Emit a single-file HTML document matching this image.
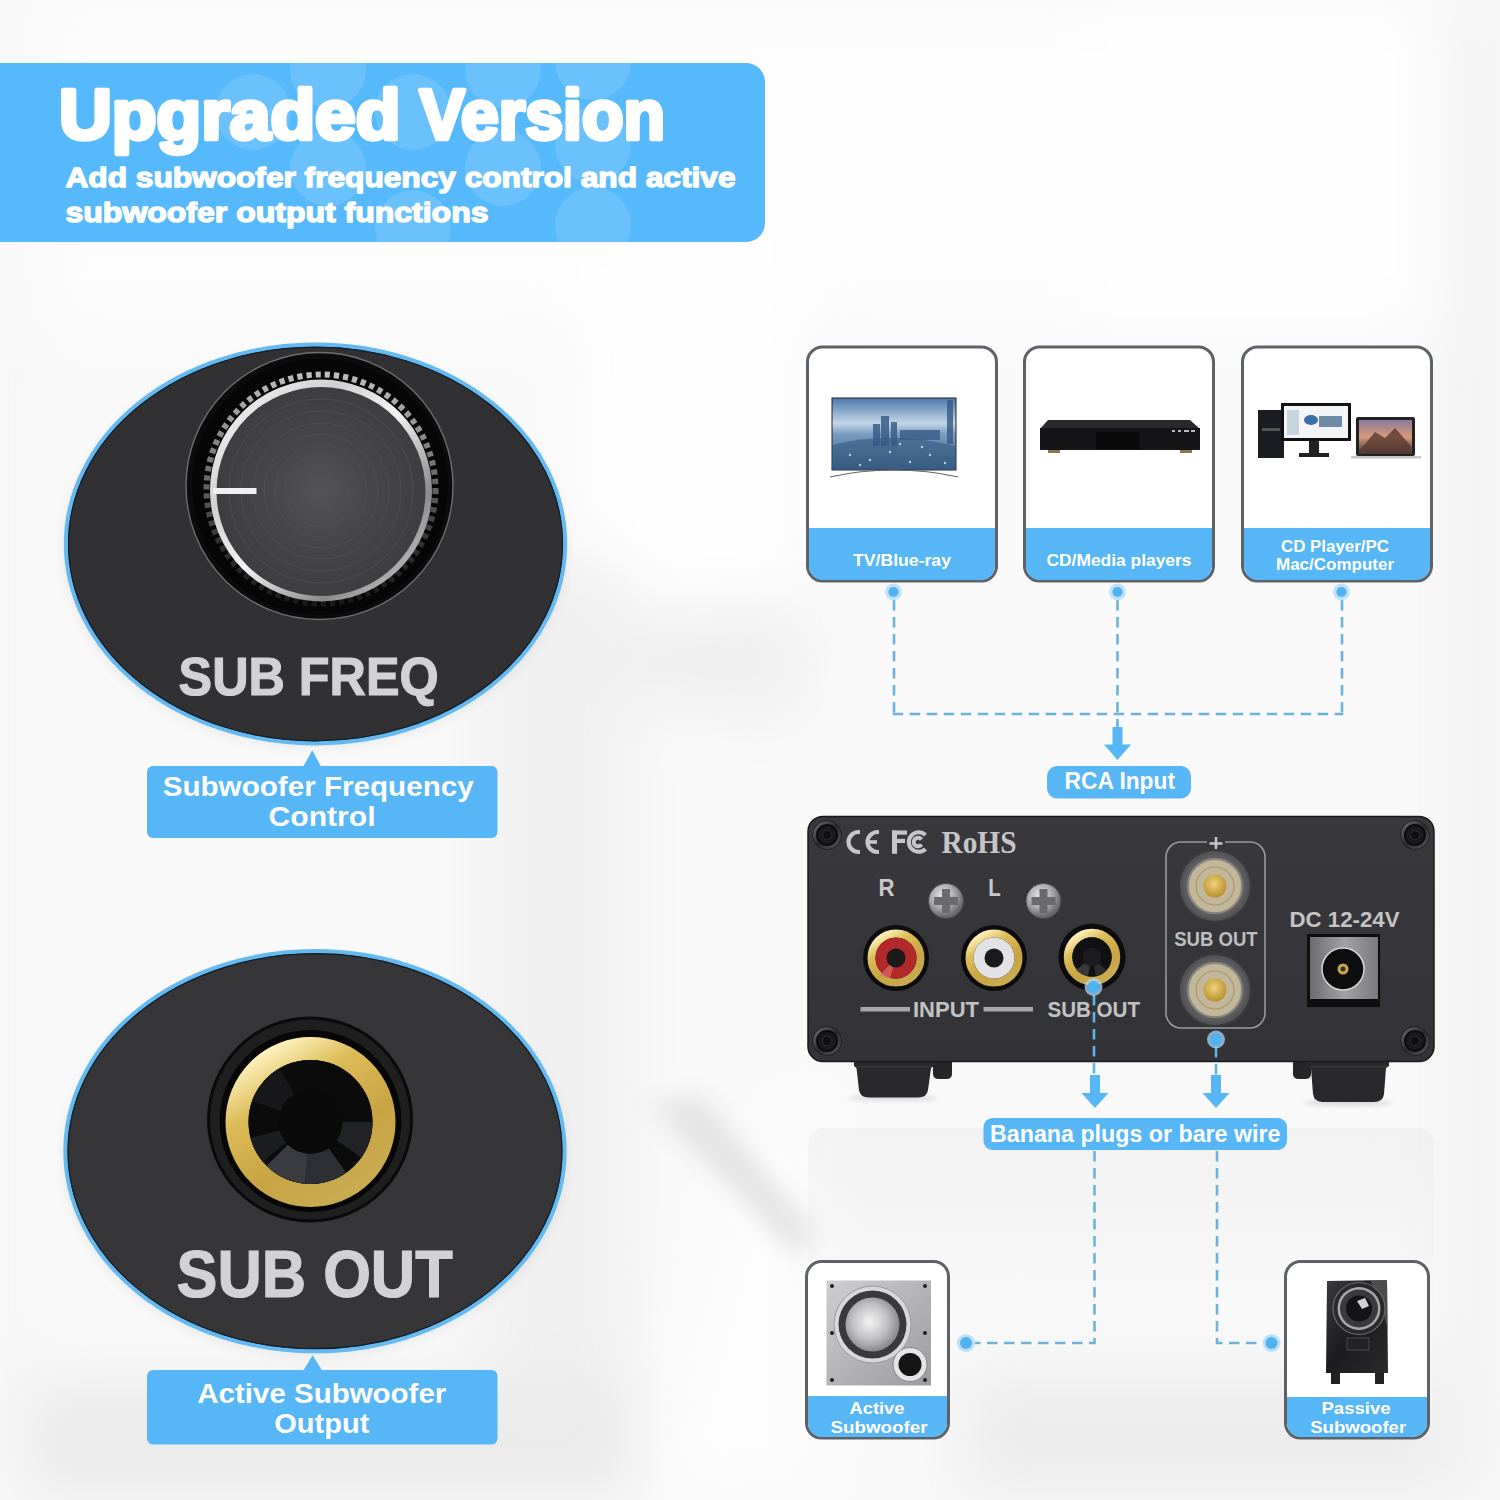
<!DOCTYPE html>
<html><head><meta charset="utf-8">
<style>
html,body{margin:0;padding:0;width:1500px;height:1500px;overflow:hidden;background:#f7f7f7;}
svg{display:block;font-family:"Liberation Sans",sans-serif;}
</style></head>
<body>
<svg width="1500" height="1500" viewBox="0 0 1500 1500">
<defs>
  <filter id="blur2" x="-50%" y="-50%" width="200%" height="200%"><feGaussianBlur stdDeviation="2"/></filter>
  <filter id="blur12" x="-50%" y="-50%" width="200%" height="200%"><feGaussianBlur stdDeviation="12"/></filter>
  <filter id="bgblur" x="-10%" y="-10%" width="120%" height="120%"><feGaussianBlur stdDeviation="30"/></filter>
  <linearGradient id="bg" x1="0" y1="0" x2="1" y2="0">
    <stop offset="0" stop-color="#fbfbfb"/>
    <stop offset="0.4" stop-color="#fcfcfc"/>
    <stop offset="0.55" stop-color="#f3f3f3"/>
    <stop offset="0.7" stop-color="#f8f8f8"/>
    <stop offset="0.85" stop-color="#f1f1f1"/>
    <stop offset="1" stop-color="#f6f6f6"/>
  </linearGradient>
  <clipPath id="bannerClip"><rect x="-30" y="63" width="795" height="179" rx="19"/></clipPath>

  <filter id="blur8" x="-20%" y="-20%" width="140%" height="140%"><feGaussianBlur stdDeviation="6"/></filter>
  <linearGradient id="silver" x1="0" y1="0" x2="1" y2="1">
    <stop offset="0" stop-color="#ffffff"/><stop offset="0.3" stop-color="#d0d0d0"/>
    <stop offset="0.5" stop-color="#f4f4f4"/><stop offset="0.75" stop-color="#8a8a8a"/><stop offset="1" stop-color="#e4e4e4"/>
  </linearGradient>
  <radialGradient id="knobface" cx="0.5" cy="0.5" r="0.5">
    <stop offset="0" stop-color="#545457"/><stop offset="0.5" stop-color="#464649"/><stop offset="1" stop-color="#3e3e41"/>
  </radialGradient>
  <linearGradient id="gold" x1="0.2" y1="0" x2="0.8" y2="1">
    <stop offset="0" stop-color="#fff3c0"/><stop offset="0.28" stop-color="#dcbc58"/>
    <stop offset="0.65" stop-color="#c8a443"/><stop offset="1" stop-color="#c9ac52"/>
  </linearGradient>

  <linearGradient id="tvscreen" x1="0" y1="0" x2="0" y2="1">
    <stop offset="0" stop-color="#4a78aa"/><stop offset="0.35" stop-color="#c4d6e8"/><stop offset="0.5" stop-color="#7a9cc0"/><stop offset="1" stop-color="#3a5f8a"/>
  </linearGradient>
  <linearGradient id="macscreen" x1="0" y1="0" x2="0" y2="1">
    <stop offset="0" stop-color="#8a7ba0"/><stop offset="0.5" stop-color="#d89a78"/><stop offset="1" stop-color="#3a3440"/>
  </linearGradient>

  <linearGradient id="ampgrad" x1="0" y1="0" x2="0" y2="1">
    <stop offset="0" stop-color="#39393d"/><stop offset="1" stop-color="#333337"/>
  </linearGradient>
  <radialGradient id="screwg" cx="0.4" cy="0.35" r="0.6">
    <stop offset="0" stop-color="#e8e8ea"/><stop offset="0.6" stop-color="#a8a8aa"/><stop offset="1" stop-color="#6a6a6c"/>
  </radialGradient>
  <radialGradient id="postg" cx="0.5" cy="0.5" r="0.5">
    <stop offset="0.6" stop-color="#7e7c76"/><stop offset="0.8" stop-color="#626264"/><stop offset="1" stop-color="#505052"/>
  </radialGradient>
  <radialGradient id="goldpin" cx="0.45" cy="0.4" r="0.6">
    <stop offset="0" stop-color="#f0d27a"/><stop offset="1" stop-color="#b8902e"/>
  </radialGradient>
  <linearGradient id="dcg" x1="0" y1="0" x2="1" y2="0">
    <stop offset="0" stop-color="#6c6c6e"/><stop offset="0.5" stop-color="#a2a2a4"/><stop offset="1" stop-color="#7a7a7c"/>
  </linearGradient>
  <linearGradient id="silverbox" x1="0" y1="0" x2="1" y2="1">
    <stop offset="0" stop-color="#cfcfd1"/><stop offset="0.5" stop-color="#b4b4b6"/><stop offset="1" stop-color="#9c9c9e"/>
  </linearGradient>
  <radialGradient id="cone" cx="0.45" cy="0.45" r="0.55">
    <stop offset="0" stop-color="#f4f4f4"/><stop offset="0.6" stop-color="#c0c0c2"/><stop offset="1" stop-color="#8a8a8c"/>
  </radialGradient>
  <linearGradient id="darkbox" x1="0" y1="0" x2="1" y2="1">
    <stop offset="0" stop-color="#3a3a3c"/><stop offset="0.5" stop-color="#1c1c1e"/><stop offset="1" stop-color="#2a2a2c"/>
  </linearGradient>
  <linearGradient id="reflg" x1="0" y1="0" x2="0" y2="1">
    <stop offset="0" stop-color="#2c2d30" stop-opacity="0.035"/><stop offset="1" stop-color="#2c2d30" stop-opacity="0.0"/>
  </linearGradient>
  <linearGradient id="tickg" x1="0" y1="0" x2="0" y2="1">
    <stop offset="0" stop-color="#bdbdbf"/><stop offset="0.45" stop-color="#6a6a6c"/><stop offset="0.75" stop-color="#303032"/><stop offset="1" stop-color="#1a1a1c"/>
  </linearGradient>
  <linearGradient id="screwring" x1="0" y1="0" x2="1" y2="1">
    <stop offset="0" stop-color="#6a6a6c"/><stop offset="0.5" stop-color="#2a2a2c"/><stop offset="1" stop-color="#555557"/>
  </linearGradient>
</defs>
<rect width="1500" height="1500" fill="#f9f9f9"/>
<g filter="url(#bgblur)">
  <rect x="0" y="0" width="1500" height="330" fill="#fdfdfd"/>
  <rect x="580" y="240" width="220" height="360" fill="#fefefe"/>
  <rect x="1080" y="0" width="380" height="330" fill="#fefefe"/>
  <rect x="480" y="560" width="150" height="940" fill="#f0f0f0"/>
  <rect x="0" y="1380" width="640" height="120" fill="#ebebeb"/>
  <rect x="960" y="1370" width="540" height="130" fill="#ededed"/>
  <path d="M640 1500 L820 1500 L820 1080 L720 1180 Z" fill="#fdfdfd"/>
  <path d="M620 620 L800 600 L800 720 L640 700 Z" fill="#efefef"/>
  <rect x="1440" y="0" width="60" height="1500" fill="#f3f3f3"/>
  <rect x="0" y="0" width="30" height="1500" fill="#f5f5f5"/>
</g>
<g filter="url(#blur12)">
  <path d="M650 1105 L700 1095 L815 1230 L800 1260 Z" fill="#e4e4e4"/>
</g>

<!-- BANNER -->
<g id="banner">
  <rect x="-30" y="63" width="795" height="179" rx="19" fill="#56b9fc"/>
  <g clip-path="url(#bannerClip)" fill="#ffffff" opacity="0.12">
    <circle cx="253" cy="112" r="38"/>
    <circle cx="328" cy="70" r="38"/>
    <circle cx="328" cy="168" r="38"/>
    <circle cx="413" cy="112" r="38"/>
    <circle cx="413" cy="228" r="38"/>
    <circle cx="503" cy="70" r="38"/>
    <circle cx="503" cy="168" r="38"/>
    <circle cx="593" cy="62" r="38"/>
    <circle cx="593" cy="145" r="38"/>
    <circle cx="593" cy="225" r="38"/>
  </g>
  <g fill="#fff" stroke="#fff" stroke-width="4.5" stroke-linejoin="round" font-size="70" font-weight="bold">
    <text x="59" y="138.5" textLength="341.5" lengthAdjust="spacingAndGlyphs">Upgraded</text>
    <text x="419.5" y="138.5" textLength="245.5" lengthAdjust="spacingAndGlyphs">Version</text>
  </g>
  <text x="65.5" y="187" font-size="28" font-weight="bold" fill="#fff" stroke="#fff" stroke-width="1.4" stroke-linejoin="round" textLength="670" lengthAdjust="spacingAndGlyphs">Add subwoofer frequency control and active</text>
  <text x="65.5" y="222" font-size="28" font-weight="bold" fill="#fff" stroke="#fff" stroke-width="1.4" stroke-linejoin="round" textLength="423" lengthAdjust="spacingAndGlyphs">subwoofer output functions</text>
</g>


<!-- LEFT ELLIPSE 1 -->
<g id="ell1">
  <ellipse cx="315" cy="548" rx="252" ry="200" fill="#000" opacity="0.06" filter="url(#blur8)"/>
  <ellipse cx="315.5" cy="544" rx="252" ry="201.5" fill="#c8ecfc"/><ellipse cx="315.5" cy="544" rx="249.5" ry="199.3" fill="#313133" stroke="#66b9ee" stroke-width="4.2"/><ellipse cx="315.5" cy="544" rx="247" ry="196.8" fill="none" stroke="#0f1e2c" stroke-width="1.2"/>
  <!-- knob -->
  <circle cx="319.5" cy="486" r="133.5" fill="#0c0c0d" stroke="#6e6e70" stroke-width="1.4"/>
  <circle cx="320" cy="487" r="128" fill="#060606"/>
  <circle cx="321" cy="489" r="114.5" fill="none" stroke="url(#tickg)" stroke-width="6" stroke-dasharray="5.2 4"/>
  <circle cx="321" cy="490.5" r="111" fill="url(#silver)" />
  <circle cx="321" cy="491.5" r="104.5" fill="url(#knobface)"/>
  <g fill="none" stroke="#525256" stroke-width="0.9" opacity="0.8">
    <circle cx="321" cy="491" r="6"/><circle cx="321" cy="491" r="12"/><circle cx="321" cy="491" r="19"/><circle cx="321" cy="491" r="27"/>
    <circle cx="321" cy="491" r="36"/><circle cx="321" cy="491" r="46"/><circle cx="321" cy="491" r="57"/>
    <circle cx="321" cy="491" r="68"/><circle cx="321" cy="491" r="80"/><circle cx="321" cy="491" r="92"/>
  </g>
  <rect x="213" y="488" width="43.5" height="6" fill="#f0f0f0"/>
  <text x="178.6" y="695" font-size="54" font-weight="bold" fill="#d2d2d4" stroke="#d2d2d4" stroke-width="1.2" textLength="260" lengthAdjust="spacingAndGlyphs">SUB FREQ</text>
</g>
<!-- bubble 1 -->
<g id="bub1">
  <rect x="147" y="766" width="350.5" height="72" rx="6" fill="#56b6f6"/>
  <path d="M303.3 766.5 L312.2 750.3 L321 766.5 Z" fill="#56b6f6"/>
  <text x="318.2" y="796" font-size="28" font-weight="bold" fill="#fff" text-anchor="middle" textLength="311" lengthAdjust="spacingAndGlyphs">Subwoofer Frequency</text>
  <text x="322" y="826" font-size="28" font-weight="bold" fill="#fff" text-anchor="middle" textLength="107" lengthAdjust="spacingAndGlyphs">Control</text>
</g>

<!-- LEFT ELLIPSE 2 -->
<g id="ell2">
  <ellipse cx="315" cy="1156" rx="252" ry="200" fill="#000" opacity="0.06" filter="url(#blur8)"/>
  <ellipse cx="315" cy="1151.2" rx="252" ry="202.3" fill="#c8ecfc"/><ellipse cx="315" cy="1151.2" rx="249.5" ry="200" fill="#363639" stroke="#66b9ee" stroke-width="4.2"/><ellipse cx="315" cy="1151.2" rx="247" ry="197.5" fill="none" stroke="#0f1e2c" stroke-width="1.2"/>
  <circle cx="310" cy="1119.5" r="103" fill="#0a0a0a"/>
  <circle cx="310" cy="1119.5" r="100" fill="#1f1f20"/>
  <circle cx="310.5" cy="1121" r="91" fill="#060606"/>
  <circle cx="310.5" cy="1122" r="73.5" fill="none" stroke="url(#gold)" stroke-width="23"/>
  <circle cx="310.5" cy="1122" r="62" fill="#0b0b0c"/>
  <path d="M307.9 1151.9 L305.1 1183.8 A62 62 0 0 1 266.7 1165.8 L289.3 1143.2 Z" fill="#3a3b40"/>
  <path d="M327.7 1146.6 L346.1 1172.8 A62 62 0 0 1 305.1 1183.8 L307.9 1151.9 Z" fill="#2e2f34"/>
  <path d="M340.5 1122.0 L372.5 1122.0 A62 62 0 0 1 361.3 1157.6 L335.1 1139.2 Z" fill="#222327"/>
  <path d="M287.5 1141.3 L263.0 1161.9 A62 62 0 0 1 250.6 1138.0 L281.5 1129.8 Z" fill="#1c1d20"/>
  <path d="M282.3 1111.7 L252.2 1100.8 A62 62 0 0 1 279.5 1068.3 L295.5 1096.0 Z" fill="#18181b"/>
  <circle cx="310.5" cy="1122" r="32" fill="#0a0a0b"/>
  <text x="176.6" y="1297" font-size="66" font-weight="bold" fill="#d2d2d4" stroke="#d2d2d4" stroke-width="1.2" textLength="276" lengthAdjust="spacingAndGlyphs">SUB OUT</text>
</g>
<g id="bub2">
  <rect x="147" y="1370" width="350.5" height="74.5" rx="6" fill="#56b6f6"/>
  <path d="M303.3 1370.5 L312.7 1355.2 L322 1370.5 Z" fill="#56b6f6"/>
  <text x="321.8" y="1402.5" font-size="28" font-weight="bold" fill="#fff" text-anchor="middle" textLength="249" lengthAdjust="spacingAndGlyphs">Active Subwoofer</text>
  <text x="321.8" y="1432.5" font-size="28" font-weight="bold" fill="#fff" text-anchor="middle" textLength="95" lengthAdjust="spacingAndGlyphs">Output</text>
</g>

<!-- SOURCE CARDS -->
<g id="cards">
  <g>
    <rect x="807.5" y="347" width="189" height="234" rx="15" fill="#fff" stroke="#5e6266" stroke-width="3"/>
    <path d="M809 528 H995 V566 A14 14 0 0 1 981 580 H823 A14 14 0 0 1 809 566 Z" fill="#56b6f6"/>
    <text x="902" y="566" font-size="17" font-weight="bold" fill="#fff" text-anchor="middle" textLength="98" lengthAdjust="spacingAndGlyphs">TV/Blue-ray</text>
  </g>
  <g>
    <rect x="1024.5" y="347" width="189" height="234" rx="15" fill="#fff" stroke="#5e6266" stroke-width="3"/>
    <path d="M1026 528 H1212 V566 A14 14 0 0 1 1198 580 H1040 A14 14 0 0 1 1026 566 Z" fill="#56b6f6"/>
    <text x="1119" y="566" font-size="17" font-weight="bold" fill="#fff" text-anchor="middle" textLength="145" lengthAdjust="spacingAndGlyphs">CD/Media players</text>
  </g>
  <g>
    <rect x="1242.5" y="347" width="189" height="234" rx="15" fill="#fff" stroke="#5e6266" stroke-width="3"/>
    <path d="M1244 528 H1430 V566 A14 14 0 0 1 1416 580 H1258 A14 14 0 0 1 1244 566 Z" fill="#56b6f6"/>
    <text x="1335" y="551.5" font-size="16" font-weight="bold" fill="#fff" text-anchor="middle" textLength="108" lengthAdjust="spacingAndGlyphs">CD Player/PC</text>
    <text x="1335" y="570" font-size="16" font-weight="bold" fill="#fff" text-anchor="middle" textLength="118" lengthAdjust="spacingAndGlyphs">Mac/Computer</text>
  </g>
  <!-- TV -->
  <g>
    <rect x="832" y="398" width="124" height="72" fill="url(#tvscreen)"/>
    <rect x="832" y="398" width="124" height="72" fill="none" stroke="#222" stroke-width="1"/>
    <g fill="#3c5f8a" opacity="0.85">
      <rect x="873" y="424" width="7" height="22"/><rect x="881" y="416" width="8" height="30"/><rect x="891" y="422" width="6" height="24"/>
      <rect x="947" y="400" width="6" height="44"/><rect x="900" y="430" width="40" height="10"/>
    </g>
    <path d="M832 445 Q890 430 956 446 L956 470 L832 470 Z" fill="#35587f" opacity="0.6"/>
    <g fill="#d8e6f4" opacity="0.8"><circle cx="850" cy="455" r="1.2"/><circle cx="870" cy="460" r="1.2"/><circle cx="890" cy="452" r="1.2"/><circle cx="910" cy="462" r="1.2"/><circle cx="930" cy="455" r="1.2"/><circle cx="945" cy="463" r="1.2"/><circle cx="860" cy="465" r="1.2"/><circle cx="900" cy="444" r="1.2"/><circle cx="922" cy="447" r="1.2"/></g>
    <path d="M830 477 Q860 470 894 470 Q928 470 958 477" fill="none" stroke="#666" stroke-width="1.2"/>
  </g>
  <!-- DVD -->
  <g>
    <path d="M1048 420 L1190 420 L1200 429 L1040 429 Z" fill="#2a2a2c"/>
    <rect x="1040" y="428" width="160" height="22" fill="#141416"/>
    <rect x="1096" y="432" width="43" height="17" fill="#0a0a0b"/>
    <g fill="#bbb"><rect x="1172" y="430" width="3" height="2"/><rect x="1178" y="430" width="3" height="2"/><rect x="1184" y="430" width="5" height="2"/><rect x="1191" y="430" width="4" height="2"/></g>
    <rect x="1048" y="450" width="12" height="3" fill="#8a7a50"/><rect x="1180" y="450" width="12" height="3" fill="#8a7a50"/>
  </g>
  <!-- PC -->
  <g>
    <rect x="1258" y="410" width="26" height="48" fill="#1c1d22"/>
    <rect x="1262" y="428" width="18" height="3" fill="#555"/>
    <rect x="1281" y="403" width="70" height="38" fill="#111"/>
    <rect x="1284" y="406" width="64" height="32" fill="#f2f4f6"/>
    <rect x="1287" y="410" width="12" height="25" fill="#c8d4de"/>
    <ellipse cx="1311" cy="420" rx="7" ry="5" fill="#3b6fa8"/>
    <rect x="1319" y="416" width="23" height="11" fill="#6e8ca8"/>
    <rect x="1309" y="441" width="10" height="12" fill="#222"/>
    <rect x="1299" y="453" width="30" height="4" fill="#222"/>
    <rect x="1356" y="417" width="59" height="39" rx="2" fill="#222"/>
    <rect x="1359" y="420" width="53" height="34" fill="url(#macscreen)"/>
    <path d="M1360 450 L1375 432 L1385 438 L1395 428 L1411 446 L1411 454 L1360 454 Z" fill="#5a3a30" opacity="0.8"/>
    <rect x="1351" y="456" width="70" height="2.5" fill="#c8c8cc"/>
  </g>
</g>

<!-- DASHED CONNECTORS TOP -->
<g id="dash-top" stroke="#6cb2dc" stroke-width="2.6" fill="none" stroke-dasharray="10.5 6.5">
  <path d="M894 600 V714"/>
  <path d="M1342 600 V714"/>
  <path d="M892.7 714 H1343.3"/>
  <path d="M1117.5 600 V727"/>
</g>
<g id="dots-top">
  <circle cx="893.5" cy="592" r="8.5" fill="#a9d8f7" opacity="0.7"/><circle cx="893.5" cy="592" r="5" fill="#4fb3f0"/>
  <circle cx="1117.5" cy="592" r="8.5" fill="#a9d8f7" opacity="0.7"/><circle cx="1117.5" cy="592" r="5" fill="#4fb3f0"/>
  <circle cx="1341.5" cy="592" r="8.5" fill="#a9d8f7" opacity="0.7"/><circle cx="1341.5" cy="592" r="5" fill="#4fb3f0"/>
</g>
<path d="M1112.5 727 H1122.5 V744.5 H1131 L1117.5 760 L1104 744.5 H1112.5 Z" fill="#56b6f6"/>
<rect x="1047" y="766" width="144" height="32.5" rx="10" fill="#56b6f6"/>
<text x="1119.8" y="789" font-size="23" font-weight="bold" fill="#fff" text-anchor="middle" textLength="110.5" lengthAdjust="spacingAndGlyphs">RCA Input</text>

<!-- AMP REFLECTION -->
<g>
  <rect x="808" y="1128" width="626" height="190" rx="15" fill="url(#reflg)"/>
</g>
<!-- AMPLIFIER -->
<g id="amp">
  <!-- feet -->
  <ellipse cx="893" cy="1098" rx="45" ry="3" fill="#000" opacity="0.12" filter="url(#blur2)"/>
  <ellipse cx="1348" cy="1103" rx="45" ry="3" fill="#000" opacity="0.12" filter="url(#blur2)"/>
  <path d="M933 1055 H952 V1074 Q952 1079 946 1079 H939 Q933 1079 933 1074 Z" fill="#262628"/>
  <path d="M1293 1055 H1311 V1074 Q1311 1079 1305 1079 H1299 Q1293 1079 1293 1074 Z" fill="#262628"/>
  <path d="M854 1058 H934 V1066 L931 1068 L928 1090 Q927 1097.5 918 1097.5 H869 Q860 1097.5 859 1090 L856.5 1068 L854 1066 Z" fill="#29292b"/>
  <rect x="856" y="1066" width="76" height="1.5" fill="#3a3a3c"/>
  <path d="M1308 1058 H1389 V1066 L1386 1068 L1384 1094 Q1383 1102 1374 1102 H1323 Q1314 1102 1313 1094 L1311 1068 L1308 1066 Z" fill="#29292b"/>
  <rect x="1310" y="1066" width="77" height="1.5" fill="#3a3a3c"/>
  <rect x="808" y="816.5" width="626" height="245" rx="15" fill="url(#ampgrad)" stroke="#1a1a1c" stroke-width="1.5"/>
  <!-- corner screws -->
  <g>
    <circle cx="827" cy="835" r="14.5" fill="#0d0d0e"/>
    <circle cx="827" cy="835" r="12.5" fill="none" stroke="url(#screwring)" stroke-width="3"/>
    <circle cx="827" cy="835" r="9" fill="#1a1a1c"/>
    <path d="M822 835 L824.5 830.7 L829.5 830.7 L832 835 L829.5 839.3 L824.5 839.3 Z" fill="#0e0e0f" stroke="#333" stroke-width="0.8"/>
    <circle cx="1415" cy="835" r="14.5" fill="#0d0d0e"/>
    <circle cx="1415" cy="835" r="12.5" fill="none" stroke="url(#screwring)" stroke-width="3"/>
    <circle cx="1415" cy="835" r="9" fill="#1a1a1c"/>
    <path d="M1410 835 L1412.5 830.7 L1417.5 830.7 L1420 835 L1417.5 839.3 L1412.5 839.3 Z" fill="#0e0e0f" stroke="#333" stroke-width="0.8"/>
    <circle cx="827" cy="1041" r="14.5" fill="#0d0d0e"/>
    <circle cx="827" cy="1041" r="12.5" fill="none" stroke="url(#screwring)" stroke-width="3"/>
    <circle cx="827" cy="1041" r="9" fill="#1a1a1c"/>
    <path d="M822 1041 L824.5 1036.7 L829.5 1036.7 L832 1041 L829.5 1045.3 L824.5 1045.3 Z" fill="#0e0e0f" stroke="#333" stroke-width="0.8"/>
    <circle cx="1415" cy="1041" r="14.5" fill="#0d0d0e"/>
    <circle cx="1415" cy="1041" r="12.5" fill="none" stroke="url(#screwring)" stroke-width="3"/>
    <circle cx="1415" cy="1041" r="9" fill="#1a1a1c"/>
    <path d="M1410 1041 L1412.5 1036.7 L1417.5 1036.7 L1420 1041 L1417.5 1045.3 L1412.5 1045.3 Z" fill="#0e0e0f" stroke="#333" stroke-width="0.8"/>
  </g>
  <!-- CE FC RoHS -->
  <g fill="none" stroke="#c6c6c8" stroke-width="4.2">
    <path d="M860 832 H858.5 A10 10 0 0 0 858.5 852 H860"/>
    <path d="M879 832 H877.5 A10 10 0 0 0 877.5 852 H879"/>
  </g>
  <rect x="868" y="840.2" width="9" height="3.6" fill="#c6c6c8"/>
  <g fill="#c6c6c8">
    <rect x="892" y="830.5" width="5" height="23.3"/><rect x="892" y="830.5" width="15" height="4.2"/><rect x="892" y="838.8" width="13" height="4.2"/>
  </g>
  <g fill="none" stroke="#c6c6c8" stroke-width="4">
    <path d="M925.5 835 A9.8 9.8 0 1 0 925.5 849"/>
    <path d="M921.5 839.5 A4.3 4.3 0 1 0 921.5 844.5"/>
  </g>
  <text x="941.5" y="852.6" font-family="Liberation Serif" font-size="31" font-weight="bold" fill="#c6c6c8" textLength="75" lengthAdjust="spacingAndGlyphs">RoHS</text>
  <!-- R L -->
  <text x="886.6" y="896" font-size="23" font-weight="bold" fill="#c8c8ca" text-anchor="middle" textLength="16" lengthAdjust="spacingAndGlyphs">R</text>
  <text x="994.5" y="896" font-size="23" font-weight="bold" fill="#c8c8ca" text-anchor="middle" textLength="12.5" lengthAdjust="spacingAndGlyphs">L</text>
  <!-- phillips screws -->
  <g>
    <circle cx="946" cy="901" r="17.5" fill="url(#screwg)" stroke="#4a4a4c" stroke-width="1"/>
    <path d="M942 889 H950 V897 H958 V905 H950 V913 H942 V905 H934 V897 H942 Z" fill="#6b6b6d"/>
    <circle cx="1043.5" cy="901" r="17.5" fill="url(#screwg)" stroke="#4a4a4c" stroke-width="1"/>
    <path d="M1039.5 889 H1047.5 V897 H1055.5 V905 H1047.5 V913 H1039.5 V905 H1031.5 V897 H1039.5 Z" fill="#6b6b6d"/>
  </g>
  <!-- RCA jacks -->
  <g>
    <circle cx="896" cy="958" r="33" fill="#0c0c0d"/>
    <circle cx="896" cy="958" r="24.5" fill="none" stroke="url(#gold)" stroke-width="8"/>
    <circle cx="896" cy="958" r="20.5" fill="#b3282a"/>
    <path d="M896 958 L880 975 A20.5 20.5 0 0 0 890 978 Z" fill="#d86c6a" opacity="0.7"/>
    <circle cx="896" cy="958" r="9.5" fill="#1a1a1a"/>
    <circle cx="994" cy="958" r="33" fill="#0c0c0d"/>
    <circle cx="994" cy="958" r="24.5" fill="none" stroke="url(#gold)" stroke-width="8"/>
    <circle cx="994" cy="958" r="20.5" fill="#e2e2e4"/>
    <circle cx="994" cy="958" r="9.5" fill="#1a1a1a"/>
    <circle cx="1092" cy="957" r="33.5" fill="#0c0c0d"/>
    <circle cx="1092" cy="957" r="24" fill="none" stroke="url(#gold)" stroke-width="8.5"/>
    <circle cx="1092" cy="957" r="19.5" fill="#111113"/>
    <path d="M1092 957 L1076 970 A19.5 19.5 0 0 0 1088 976 Z" fill="#444" opacity="0.8"/>
    <path d="M1092 957 L1096 976 A19.5 19.5 0 0 0 1106 970 Z" fill="#333" opacity="0.8"/>
    <circle cx="1092" cy="957" r="9.5" fill="#1c1c1e"/>
  </g>
  <!-- INPUT / SUB OUT labels -->
  <rect x="860.5" y="1007" width="49.5" height="4.5" fill="#a8a8aa"/>
  <rect x="983.5" y="1007" width="49.5" height="4.5" fill="#a8a8aa"/>
  <text x="913" y="1016.5" font-size="21.5" font-weight="bold" fill="#c2c2c4" textLength="66" lengthAdjust="spacingAndGlyphs">INPUT</text>
  <text x="1047.5" y="1016.5" font-size="21.5" font-weight="bold" fill="#c2c2c4" textLength="92.5" lengthAdjust="spacingAndGlyphs">SUB OUT</text>
  <!-- binding post enclosure -->
  <path d="M1207 842 H1181 A15 15 0 0 0 1166 857 V1013 A15 15 0 0 0 1181 1028 H1250 A15 15 0 0 0 1265 1013 V857 A15 15 0 0 0 1250 842 H1225" fill="none" stroke="#9a9a9c" stroke-width="1.6"/>
  <path d="M1216 837 V850 M1209.5 843.5 H1222.5" stroke="#c4c4c6" stroke-width="2.6"/>
  <g>
    <circle cx="1215" cy="886" r="37" fill="#3a3a3c"/>
    <circle cx="1215" cy="886" r="35" fill="url(#postg)"/>
    <circle cx="1215" cy="886" r="27" fill="#c2b79a" stroke="#8a8780" stroke-width="2"/>
    <circle cx="1215" cy="886" r="19" fill="none" stroke="#a99770" stroke-width="1.2"/>
    <circle cx="1215" cy="886" r="11.5" fill="url(#goldpin)"/>
    <circle cx="1215" cy="990" r="37" fill="#3a3a3c"/>
    <circle cx="1215" cy="990" r="35" fill="url(#postg)"/>
    <circle cx="1215" cy="990" r="27" fill="#c2b79a" stroke="#8a8780" stroke-width="2"/>
    <circle cx="1215" cy="990" r="19" fill="none" stroke="#a99770" stroke-width="1.2"/>
    <circle cx="1215" cy="990" r="11.5" fill="url(#goldpin)"/>
  </g>
  <text x="1174.2" y="946" font-size="20" font-weight="bold" fill="#bebec0" textLength="83.5" lengthAdjust="spacingAndGlyphs">SUB OUT</text>
  <!-- DC -->
  <text x="1289.5" y="926.5" font-size="22" font-weight="bold" fill="#c4c4c6" textLength="110" lengthAdjust="spacingAndGlyphs">DC 12-24V</text>
  <rect x="1307" y="934" width="73" height="73" fill="#0e0e0f"/>
  <rect x="1310" y="937" width="68" height="62" fill="url(#dcg)"/>
  <circle cx="1343" cy="969" r="21" fill="#0e0e0f" stroke="#d6d6d8" stroke-width="1.5"/>
  <circle cx="1343" cy="969" r="5.5" fill="#c9a84a"/>
  <circle cx="1343" cy="969" r="2.5" fill="#333"/>
</g>
<!-- amp connectors -->
<g stroke="#62b4e6" stroke-width="2.6" fill="none" stroke-dasharray="10.5 6.5">
  <path d="M1094 995 V1076"/>
  <path d="M1216 1047 V1076"/>
</g>
<circle cx="1093.5" cy="987" r="9" fill="#a9d8f7" opacity="0.75"/><circle cx="1093.5" cy="987" r="6" fill="#4fb3f0"/>
<circle cx="1216" cy="1039.5" r="9" fill="#a9d8f7" opacity="0.75"/><circle cx="1216" cy="1039.5" r="6" fill="#4fb3f0"/>
<path d="M1090 1075 H1100 V1093 H1108.5 L1095 1108 L1081.5 1093 H1090 Z" fill="#56b6f6"/>
<path d="M1211 1075 H1221 V1093 H1229.5 L1216 1108 L1202.5 1093 H1211 Z" fill="#56b6f6"/>
<rect x="983.5" y="1118" width="303.5" height="32" rx="9" fill="#56b6f6"/>
<text x="990" y="1141.5" font-size="23" font-weight="bold" fill="#fff" textLength="290.5" lengthAdjust="spacingAndGlyphs">Banana plugs or bare wire</text>

<!-- bottom connectors -->
<g stroke="#6cb2dc" stroke-width="2.6" fill="none" stroke-dasharray="10.5 6.5">
  <path d="M1094.5 1151 V1343 H975"/>
  <path d="M1217 1151 V1343 H1262"/>
</g>
<circle cx="966" cy="1343" r="9" fill="#a9d8f7" opacity="0.75"/><circle cx="966" cy="1343" r="6" fill="#4fb3f0"/>
<circle cx="1271.5" cy="1343" r="9" fill="#a9d8f7" opacity="0.75"/><circle cx="1271.5" cy="1343" r="6" fill="#4fb3f0"/>

<!-- SUB CARDS -->
<g>
  <rect x="806.5" y="1261.5" width="142" height="176.5" rx="15" fill="#fff" stroke="#5e6266" stroke-width="3"/>
  <path d="M808 1396 H947 V1423 A14 14 0 0 1 933 1437 H822 A14 14 0 0 1 808 1423 Z" fill="#56b6f6"/>
  <text x="877" y="1414" font-size="17" font-weight="bold" fill="#fff" text-anchor="middle" textLength="55" lengthAdjust="spacingAndGlyphs">Active</text>
  <text x="879" y="1432.5" font-size="17" font-weight="bold" fill="#fff" text-anchor="middle" textLength="97" lengthAdjust="spacingAndGlyphs">Subwoofer</text>
  <!-- active speaker -->
  <rect x="826.5" y="1280.5" width="104.5" height="105" fill="url(#silverbox)"/>
  <circle cx="872.5" cy="1324.5" r="38.5" fill="#d8d8da" stroke="#9a9a9c" stroke-width="1"/>
  <circle cx="872.5" cy="1324.5" r="34" fill="#3a3a3c"/>
  <circle cx="872.5" cy="1324.5" r="27" fill="url(#cone)"/>
  <circle cx="910" cy="1364.5" r="17" fill="#e4e4e6" stroke="#888" stroke-width="1"/>
  <circle cx="910" cy="1364.5" r="11.5" fill="#151515"/>
  <g fill="#222"><circle cx="832" cy="1286" r="2"/><circle cx="925" cy="1286" r="2"/><circle cx="832" cy="1380" r="2"/><circle cx="925" cy="1380" r="2"/><circle cx="832" cy="1333" r="2"/><circle cx="925" cy="1333" r="2"/></g>
</g>
<g>
  <rect x="1285.5" y="1261.5" width="143" height="176.5" rx="15" fill="#fff" stroke="#5e6266" stroke-width="3"/>
  <path d="M1287 1397 H1427 V1423 A14 14 0 0 1 1413 1437 H1301 A14 14 0 0 1 1287 1423 Z" fill="#56b6f6"/>
  <text x="1356" y="1413.5" font-size="17" font-weight="bold" fill="#fff" text-anchor="middle" textLength="69" lengthAdjust="spacingAndGlyphs">Passive</text>
  <text x="1358.2" y="1432.5" font-size="17" font-weight="bold" fill="#fff" text-anchor="middle" textLength="96" lengthAdjust="spacingAndGlyphs">Subwoofer</text>
  <!-- passive speaker -->
  <path d="M1327 1281 L1387 1280 L1388 1373 L1326 1373 Z" fill="url(#darkbox)"/>
  <rect x="1331" y="1373" width="9" height="11" fill="#222"/><rect x="1375" y="1373" width="9" height="11" fill="#222"/>
  <path d="M1370 1280 L1387 1280 L1388 1330 Q1380 1300 1370 1280 Z" fill="#6a6a6c" opacity="0.6"/>
  <circle cx="1359" cy="1308.5" r="26" fill="#2a2a2c" stroke="#6a6a6c" stroke-width="1.2"/>
  <circle cx="1359" cy="1308.5" r="21.5" fill="#a8a8aa"/>
  <circle cx="1359" cy="1308.5" r="19" fill="#3a3a3c"/>
  <circle cx="1359" cy="1308.5" r="13" fill="#141416"/>
  <path d="M1357 1301 L1365 1298 L1369 1306 L1362 1309 Z" fill="#d0d0d2"/>
  <rect x="1347" y="1338" width="22" height="12" fill="#222" stroke="#555" stroke-width="0.8"/>
</g>

</svg>
</body></html>
